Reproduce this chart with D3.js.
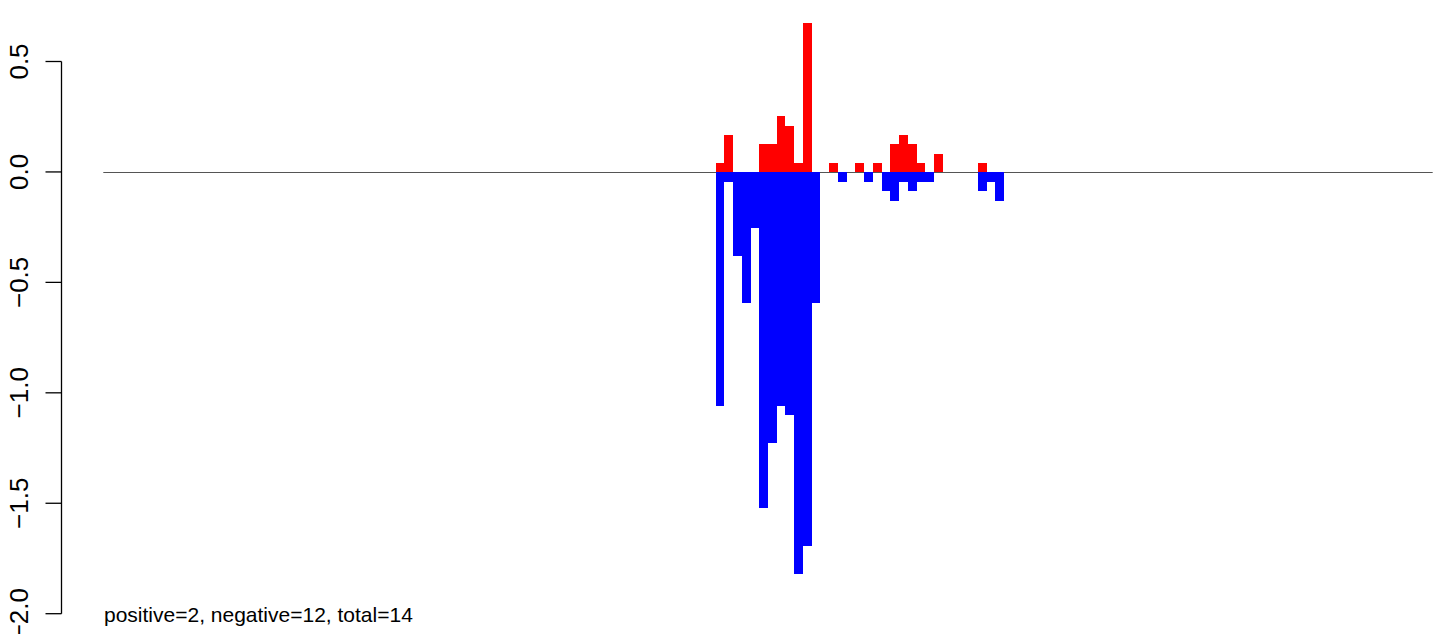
<!DOCTYPE html>
<html>
<head>
<meta charset="utf-8">
<script src="https://cdn.jsdelivr.net/npm/d3@7"></script>
<style>
  html, body { margin: 0; padding: 0; background: #fff; }
  svg { display: block; }
  text { font-family: "Liberation Sans", Arial, Helvetica, sans-serif; fill: #000; }
</style>
</head>
<body>
<svg id="chart" width="1441" height="634"></svg>
<script>
// ---- data (152 positions; bars only where non-zero) ----
const positive = [
  0,0,0,0,0,0,0,0,0,0, 0,0,0,0,0,0,0,0,0,0,
  0,0,0,0,0,0,0,0,0,0, 0,0,0,0,0,0,0,0,0,0,
  0,0,0,0,0,0,0,0,0,0, 0,0,0,0,0,0,0,0,0,0,
  0,0,0,0,0,0,0,0,0,0,
  0.041,0.168,0,0,0,0.127,0.127,0.254,0.208,0.041,
  0.675,0,0,0.041,0,0,0.041,0,0.041,0,
  0.127,0.168,0.127,0.041,0,0.082,0,0,0,0,
  0.041,0,0,
  0,0,0,0,0,0,0,0,0,0, 0,0,0,0,0,0,0,0,0,0,
  0,0,0,0,0,0,0,0,0,0, 0,0,0,0,0,0,0,0,0,0,
  0,0,0,0,0,0,0,0,0
];
const negative = [
  0,0,0,0,0,0,0,0,0,0, 0,0,0,0,0,0,0,0,0,0,
  0,0,0,0,0,0,0,0,0,0, 0,0,0,0,0,0,0,0,0,0,
  0,0,0,0,0,0,0,0,0,0, 0,0,0,0,0,0,0,0,0,0,
  0,0,0,0,0,0,0,0,0,0,
  -1.059,-0.044,-0.380,-0.593,-0.255,-1.521,-1.227,-1.059,-1.100,-1.820,
  -1.693,-0.593,0,0,-0.044,0,0,-0.044,0,-0.085,
  -0.130,-0.044,-0.085,-0.044,-0.044,0,0,0,0,0,
  -0.085,-0.044,-0.130,
  0,0,0,0,0,0,0,0,0,0, 0,0,0,0,0,0,0,0,0,0,
  0,0,0,0,0,0,0,0,0,0, 0,0,0,0,0,0,0,0,0,0,
  0,0,0,0,0,0,0,0,0
];
const yTicks = [0.5, 0.0, -0.5, -1.0, -1.5, -2.0];
const yTickLabels = ["0.5", "0.0", "\u22120.5", "\u22121.0", "\u22121.5", "\u22122.0"];
const footnote = "positive=2, negative=12, total=14";

// ---- layout ----
const svg = d3.select("#chart");
const n = positive.length;
const x = d3.scaleLinear().domain([0, n]).range([103.3, 1432.7]);
const y = d3.scaleLinear().domain([-2, 0.5]).range([613.7, 61.5]);

// zero line
svg.append("line")
  .attr("x1", x(0)).attr("x2", x(n))
  .attr("y1", Math.round(y(0)) + 0.5).attr("y2", Math.round(y(0)) + 0.5)
  .attr("stroke", "#555").attr("stroke-width", 1);

const idx = d3.range(n);

// positive bars
svg.append("g").attr("shape-rendering", "crispEdges")
  .selectAll("rect").data(idx.filter(i => positive[i] > 0)).join("rect")
  .attr("x", i => x(i)).attr("width", i => x(i + 1) - x(i))
  .attr("y", i => y(positive[i])).attr("height", i => y(0) - y(positive[i]))
  .attr("fill", "#FF0000");

// negative bars
svg.append("g").attr("shape-rendering", "crispEdges")
  .selectAll("rect").data(idx.filter(i => negative[i] < 0)).join("rect")
  .attr("x", i => x(i)).attr("width", i => x(i + 1) - x(i))
  .attr("y", y(0)).attr("height", i => y(negative[i]) - y(0))
  .attr("fill", "#0000FF");

// y axis (R style)
const axisX = 61.5;
const ax = svg.append("g");
ax.append("line")
  .attr("x1", axisX).attr("x2", axisX)
  .attr("y1", y(yTicks[0])).attr("y2", y(yTicks[yTicks.length - 1]))
  .attr("stroke", "#000").attr("stroke-width", 1.3);
ax.selectAll("line.tick").data(yTicks).join("line").attr("class", "tick")
  .attr("x1", axisX - 16).attr("x2", axisX)
  .attr("y1", d => y(d)).attr("y2", d => y(d))
  .attr("stroke", "#000").attr("stroke-width", 1.3);
ax.selectAll("text").data(yTicks).join("text")
  .attr("transform", d => `translate(27.5,${y(d)}) rotate(-90)`)
  .attr("text-anchor", "middle")
  .attr("font-size", 26)
  .text((d, i) => yTickLabels[i]);

// footnote
svg.append("text")
  .attr("x", 104).attr("y", 622)
  .attr("font-size", 21)
  .text(footnote);
</script>
</body>
</html>
